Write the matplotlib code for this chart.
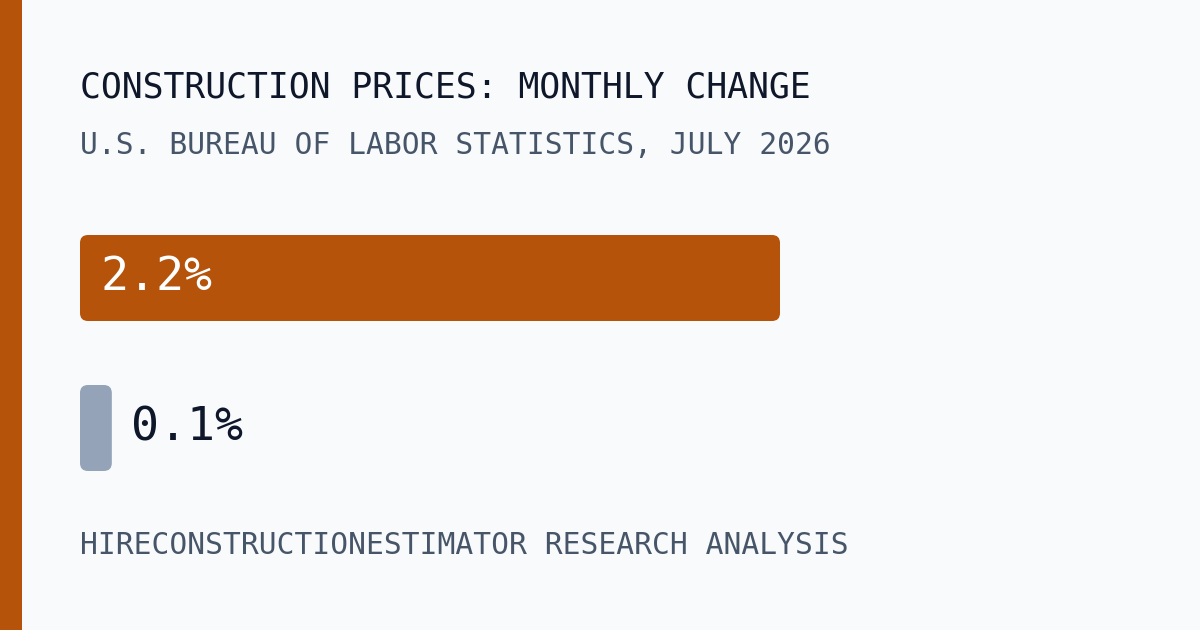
import matplotlib
matplotlib.use("Agg")
import matplotlib.pyplot as plt
from matplotlib.patches import FancyBboxPatch, Rectangle
from matplotlib.transforms import offset_copy

# Data
categories = ["Construction prices", "Other"]
values = [2.2, 0.1]
labels = ["2.2%", "0.1%"]

title = "CONSTRUCTION PRICES: MONTHLY CHANGE"
subtitle = "U.S. BUREAU OF LABOR STATISTICS, JULY 2026"
footer = "HIRECONSTRUCTIONESTIMATOR RESEARCH ANALYSIS"

# Colours
bg = "#f8fafc"
accent = "#b45309"
muted = "#94a3b8"
dark = "#0f172a"
slate = "#475569"
mono = "DejaVu Sans Mono"

W, H, DPI = 1200, 630, 100
fig = plt.figure(figsize=(W / DPI, H / DPI), dpi=DPI, facecolor=bg)

# left accent stripe
fig.patches.append(Rectangle((0, 0), 22 / W, 1, transform=fig.transFigure,
                             facecolor=accent, edgecolor="none", zorder=0))

def fy(py):
    return 1 - py / H

fig.text(80 / W, fy(87), title, fontsize=25, family=mono, color=dark,
         ha="left", va="center")
fig.text(80 / W, fy(145), subtitle, fontsize=21.3, family=mono, color=slate,
         ha="left", va="center")
fig.text(80 / W, fy(546), footer, fontsize=21.3, family=mono, color=slate,
         ha="left", va="center")

# bar area: 700px for the largest value, rows 150px apart, bars 86px tall
top_px, bot_px = 235, 471
row_px, bar_px = 150, 86
ax = fig.add_axes([80 / W, fy(bot_px), 700 / W, (bot_px - top_px) / H])
ax.set_facecolor("none")
half = bar_px / row_px / 2
ax.set_xlim(0, max(values))
ax.set_ylim(len(values) - 1 + half, -half)
ax.axis("off")

x_per_px = max(values) / 700
y_per_px = 1 / row_px
radius = 8 * x_per_px
aspect = y_per_px / x_per_px

colors = [accent, muted]
for i, (v, c) in enumerate(zip(values, colors)):
    box = FancyBboxPatch((0, i - half), v, 2 * half,
                         boxstyle=f"round,pad=0,rounding_size={radius}",
                         mutation_aspect=aspect, facecolor=c, edgecolor="none")
    ax.add_patch(box)

# value labels: inside for the big bar, outside for the small one
inside = offset_copy(ax.transData, fig=fig, x=20, y=0, units="dots")
outside = offset_copy(ax.transData, fig=fig, x=19, y=0, units="dots")
ax.text(0, 0, labels[0], transform=inside, fontsize=33.5, family=mono,
        color="white", ha="left", va="center")
ax.text(values[1], 1, labels[1], transform=outside, fontsize=33.5, family=mono,
        color=dark, ha="left", va="center")

fig.savefig("out.png", dpi=DPI, facecolor=bg)
